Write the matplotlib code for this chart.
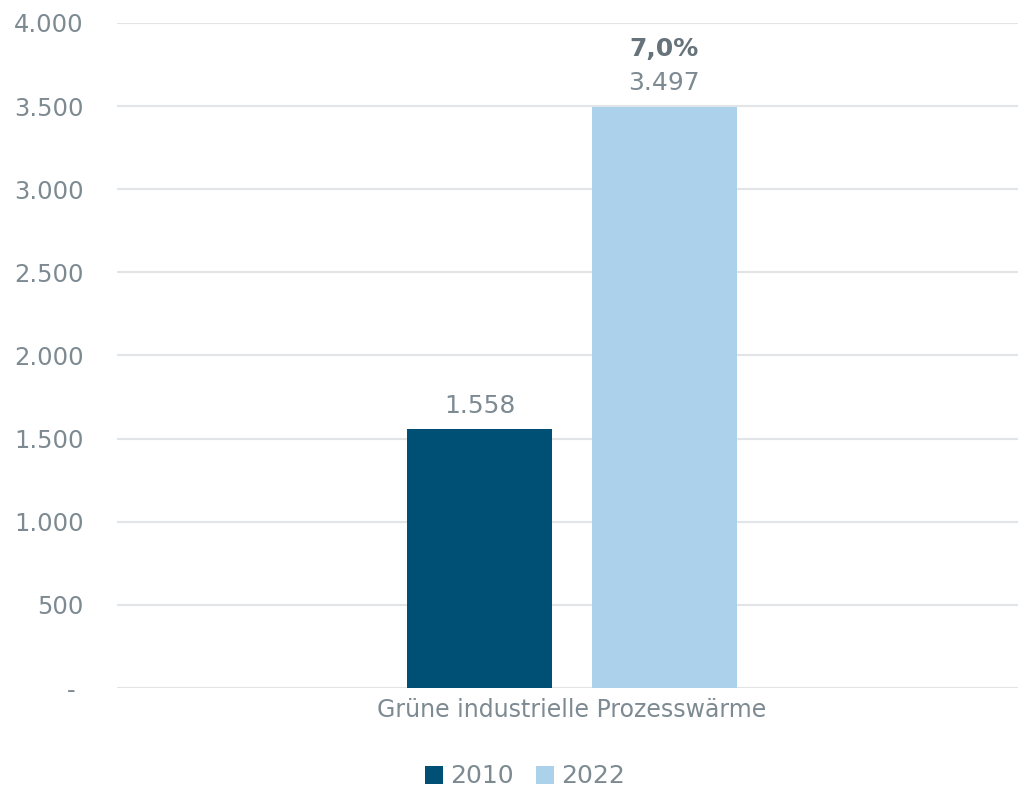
import matplotlib.pyplot as plt
import matplotlib.ticker as mticker

# data
category = "Grüne industrielle Prozesswärme"
years = ["2010", "2022"]
values = [1558, 3497]
share_label = "7,0%"   # share shown above the 2022 bar
colors = ["#004f74", "#abd2ea"]
yticks = [0, 500, 1000, 1500, 2000, 2500, 3000, 3500, 4000]

text_color = "#7d8a92"
grid_color = "#e1e5e7"

plt.rcParams['font.family'] = ['DejaVu Sans']

fig = plt.figure(figsize=(10.18, 7.89), dpi=100)
ax = fig.add_axes([117 / 1018, 0.128, 1 - 117 / 1018, 0.843])

width = 0.161
offsets = [-0.1024, 0.1024]
bars = []
for yr, v, c, off in zip(years, values, colors, offsets):
    b = ax.bar(off, v, width=width, color=c, label=yr, zorder=3)
    bars.append(b)

# value labels
for b, v in zip(bars, values):
    rect = b[0]
    ax.annotate(f"{v:,}".replace(",", "."),
                (rect.get_x() + rect.get_width() / 2, v),
                xytext=(0, 8), textcoords="offset points",
                ha="center", va="bottom", fontsize=18, color=text_color)
rect = bars[1][0]
ax.annotate(share_label, (rect.get_x() + rect.get_width() / 2, values[1]),
            xytext=(0, 33), textcoords="offset points",
            ha="center", va="bottom", fontsize=18, fontweight="bold",
            color="#66737b")

ax.set_xlim(-0.505, 0.495)
ax.set_ylim(0, 4000)
ax.set_yticks(yticks)
ax.yaxis.set_major_formatter(mticker.FuncFormatter(
    lambda v, p: "- " if v == 0 else f"{int(v):,}".replace(",", ".")))
ax.set_xticks([0])
ax.set_xticklabels([category])
ax.tick_params(axis="y", length=0, pad=24, labelsize=17.5, labelcolor=text_color)
ax.tick_params(axis="x", length=0, pad=7, labelsize=17, labelcolor=text_color)

ax.grid(axis="y", color=grid_color, linewidth=1.5, zorder=0)
for s in ax.spines.values():
    s.set_visible(False)

leg = fig.legend(loc="center", bbox_to_anchor=(0.516, 0.016), ncol=2,
                 frameon=False, fontsize=18, handlelength=0.72, handleheight=0.72,
                 handletextpad=0.28, columnspacing=0.9)
for t in leg.get_texts():
    t.set_color(text_color)

fig.savefig("out.png", dpi=100)
